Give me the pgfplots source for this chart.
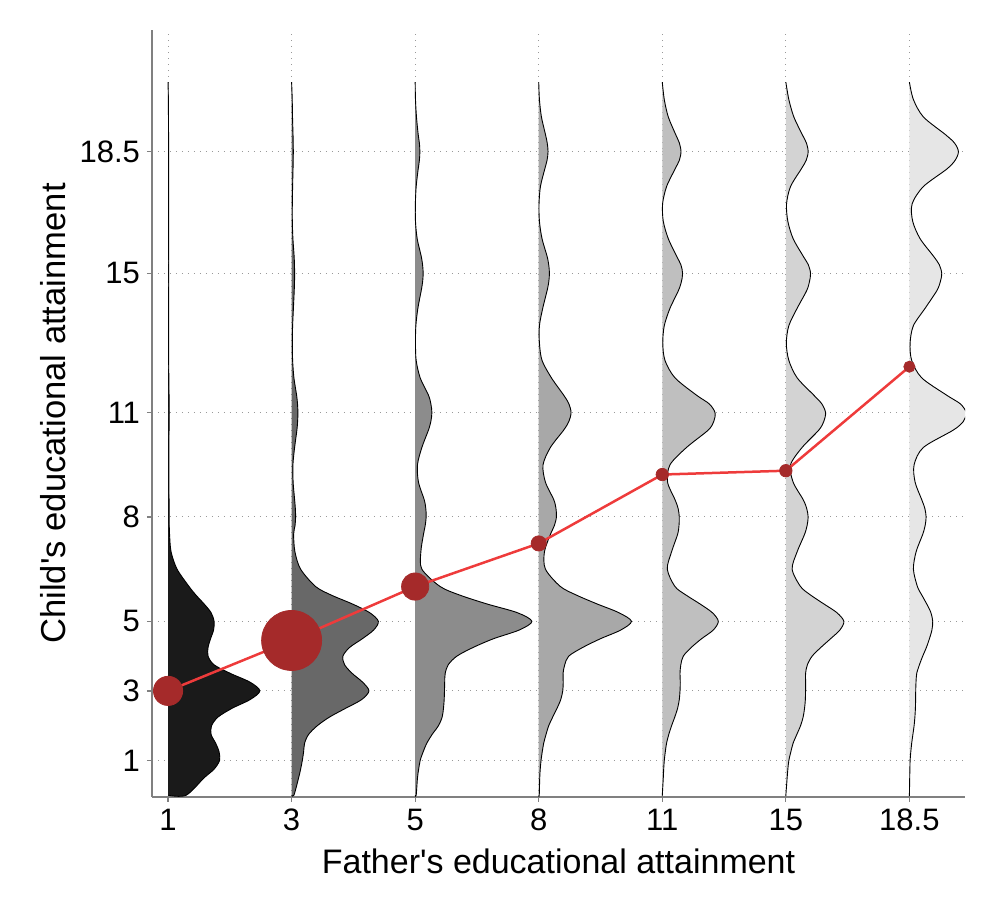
\documentclass[border=0pt]{standalone}
\usepackage{fontspec}
\setmainfont{Liberation Sans}
\usepackage{pgfplots}
\usepackage{pgfplotstable}
\pgfplotsset{compat=1.18}

\definecolor{g0}{HTML}{1A1A1A}
\definecolor{g1}{HTML}{686868}
\definecolor{g2}{HTML}{8C8C8C}
\definecolor{g3}{HTML}{A8A8A8}
\definecolor{g4}{HTML}{BFBFBF}
\definecolor{g5}{HTML}{D3D3D3}
\definecolor{g6}{HTML}{E6E6E6}
\definecolor{lred}{HTML}{EE3B3B}
\definecolor{ptred}{HTML}{A52A2A}
\definecolor{axgray}{HTML}{808080}
\definecolor{gridgray}{HTML}{999999}

% density widths in pixels of the original, one column per father category
\pgfplotstableread{
v     c0   c1   c2    c3   c4   c5   c6
0     0    0    0     0    0    0    0
0     18   2.3  1     0.5  0    0    0
0.5   36   7    2.3   1    1    1.3  0.3
0.75  46   9    3.5   1.5  1.4  2    0.5
1     51.5 10.7 5     2.3  2    3    0.7
1.25  51   12   8     3.5  3    5    1.4
1.5   47.5 13   11.7  5    4.3  7.3  2.3
1.75  43   17   17    7.3  6.5  11   3.5
2     43.5 25.7 23.3  10   9.3  14.7 4.7
2.25  50   38   27    14   12.5 17.3 5.5
2.5   64   54   28.3  18.3 15.3 18.7 6
2.75  82   70   29    22   17   19.5 6.2
3     91.8 77.3 29.3  24   17.7 19.7 6.3
3.25  82   71   29.5  24.5 18   19.8 6.6
3.5   62.5 60.7 30    24.3 17.7 19.7 7.3
3.75  46   53   33    26   18.5 21.5 10
4     40   51.3 41.7  30   21   26.3 13.3
4.25  40   58   58    44   29   35   17
4.5   42.5 70.7 78.3  61.7 39.3 44.7 20
4.75  45.5 82   104   82   51   54   22.5
5     46   86.7 116.7 92.7 56   58   23.3
5.25  43   78   102   80   50   51   21.5
5.5   36   60.7 71.7  58.3 37.7 38   17.3
5.75  28   40   45    38   24   25   12.5
6     21   24   25    21.7 12.7 14.7 8
6.5   9    9    6.7   6.7  5    6.3  4
7     3    3.3  5.7   5.7  9.3  11.3 6.7
7.5   1.5  2    8.3   11.7 15.3 18.7 13.3
7.75  1.2  3.4  10    15.6 16.7 21.2 15.7
8     1    4    11    17.7 17   22.3 16.7
8.25  1    3.7  10.6  17.2 15.8 20.8 15.4
8.5   1    3    9     15   12.7 17.3 12.3
9     0.8  1.5  3.3   6.7  5.3  7.3  5.7
9.5   0.8  1.3  2.3   4.3  7.7  4.7  4.7
10    0.8  3    6.7   11.7 24.3 16.3 14
10.5  1    5.3  13.3  25   46   33   44
10.75 1.1  6    15.7  30.2 51.5 38   54
11    1.2  6.3  16.7  32.3 52.7 39.7 56.7
11.25 1.1  5.9  15.7  30.2 47   36   51
11.5  1    5    13.3  25   34.3 28   37.3
12    0.8  2.3  5     12.7 12.7 11.3 12.3
12.5  0.6  1    1     3.3  2.7  3    2.3
13    0.6  0.7  0.3   0.7  0.5  0.5  0.7
13.5  0.6  1    0.7   0.7  2    3    4
14    0.6  1.8  2.7   4    7.7  11.3 15.7
14.5  0.6  2.6  6     8.3  16   20.7 27.3
14.75 0.7  2.9  7.4   10   19   23.5 30.8
15    0.7  3    8     10.7 20.3 24.7 32.3
15.25 0.7  2.85 7.4   10   18.6 22.5 29.9
15.5  0.6  2.5  6     8.3  14.3 17.3 24
16    0.6  1.3  2     3.3  6    7.3  10.7
16.5  0.5  0.7  0.3   0.7  1    2    3.3
17    0.5  0.7  0.2   0.3  0.3  0.7  2.7
17.5  0.5  1    1     1.7  4.3  4.7  14
18    0.5  1.4  3     6    12.7 15.3 37.3
18.25 0.5  1.6  4.2   8.3  17   20.3 45.6
18.5  0.5  1.7  4.7   9.3  18.7 22.3 49
18.75 0.5  1.6  4.2   8.5  17.1 20.6 45.1
19    0.5  1.4  3     6.7  13.3 16.3 35.7
19.5  0.4  0.9  1.3   2.7  6    8    14
20    0.3  0.6  0.3   0.7  2    3    4
20.5  0    0    0     0    0    0    0
}\dens

\pgfplotstableread{
x y     r
0 3.00  7.3
1 4.45  15
2 6.00  6.8
3 7.24  3.8
4 9.22  3.1
5 9.33  3.1
6 12.32 2.8
}\means

\newcommand{\ridge}[3]{%
  \addplot[fill=#2, draw=none, smooth] table[x expr=\thisrow{#1}/123.5+#3, y=v]{\dens};
  \addplot[black, line width=0.45pt, smooth] table[x expr=\thisrow{#1}/123.5+#3, y=v]{\dens};}

\begin{document}
\begin{tikzpicture}
\begin{axis}[
  scale only axis, width=406.5pt, height=383.5pt,
  xmin=-0.13, xmax=6.45, ymin=-0.05, ymax=22,
  axis x line*=bottom, axis y line*=left,
  axis line style={draw=axgray, line width=1.2pt, -},
  xtick={0,...,6}, xticklabels={1,3,5,8,11,15,18.5},
  ytick={1,3,5,8,11,15,18.5}, yticklabels={1,3,5,8,11,15,18.5},
  tick align=outside, major tick length=2.5pt,
  tick style={axgray, line width=0.6pt},
  grid=major,
  major grid style={gridgray, line width=0.5pt, dash pattern=on 0.6pt off 2.4pt},
  tick label style={font=\fontsize{15.5}{17}\selectfont},
  label style={font=\fontsize{17.3}{20}\selectfont},
  xlabel={Father\textquotesingle s educational attainment},
  ylabel={Child\textquotesingle s educational attainment},
  xlabel style={yshift=-2pt, font=\fontsize{17}{20}\selectfont},
  /pgf/number format/assume math mode=true,
]
\ridge{c0}{g0}{0}
\ridge{c1}{g1}{1}
\ridge{c2}{g2}{2}
\ridge{c3}{g3}{3}
\ridge{c4}{g4}{4}
\ridge{c5}{g5}{5}
\ridge{c6}{g6}{6}
\addplot[lred, line width=1.25pt] table[x=x, y=y]{\means};
\addplot[scatter, only marks, mark=*,
  scatter/use mapped color={draw=ptred, fill=ptred},
  visualization depends on={\thisrow{r}\as\rad},
  scatter/@pre marker code/.append style={/tikz/mark size=\rad}]
  table[x=x, y=y]{\means};
\end{axis}
\pgfresetboundingbox
\path ([shift={(-76pt,-61.5pt)}]current axis.south west) rectangle ([shift={(15.5pt,15pt)}]current axis.north east);
\end{tikzpicture}
\end{document}
